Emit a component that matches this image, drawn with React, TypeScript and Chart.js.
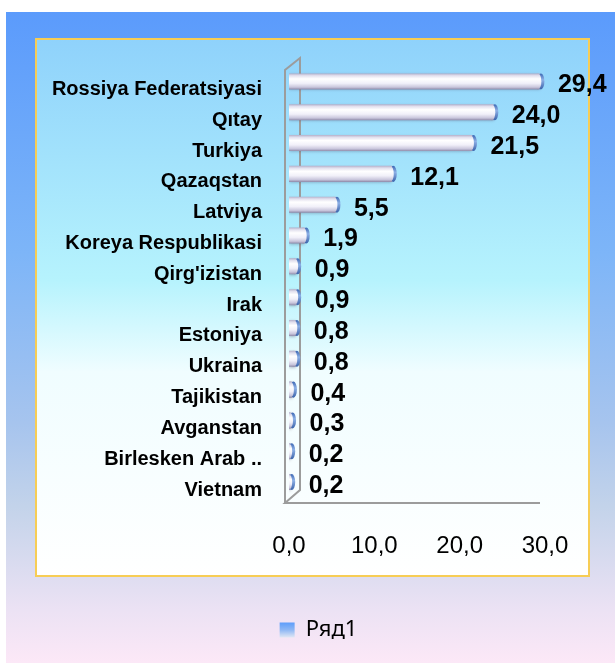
import React, { useEffect, useRef } from 'react';
import { Chart, registerables } from 'chart.js';

Chart.register(...registerables);

const categories = [
  'Rossiya Federatsiyasi',
  'Qıtay',
  'Turkiya',
  'Qazaqstan',
  'Latviya',
  'Koreya Respublikasi',
  "Qirg'izistan",
  'Irak',
  'Estoniya',
  'Ukraina',
  'Tajikistan',
  'Avganstan',
  'Birlesken Arab ..',
  'Vietnam',
];
const values = [29.4, 24.0, 21.5, 12.1, 5.5, 1.9, 0.9, 0.9, 0.8, 0.8, 0.4, 0.3, 0.2, 0.2];
const xTicks = [0, 10, 20, 30];
const seriesName = 'Ряд1';

const fmt = (v: number) => v.toFixed(1).replace('.', ',');

const BAR_PCT = 0.52;

function bodyGradient(ctx: CanvasRenderingContext2D, yc: number, half: number) {
  const g = ctx.createLinearGradient(0, yc - half, 0, yc + half);
  g.addColorStop(0, '#b4b0ca');
  g.addColorStop(0.14, '#e2e0ee');
  g.addColorStop(0.34, '#ffffff');
  g.addColorStop(0.62, '#f1f0f9');
  g.addColorStop(0.86, '#c9c6dc');
  g.addColorStop(1, '#8e8aa9');
  return g;
}

export default function App() {
  const ref = useRef<HTMLCanvasElement>(null);

  useEffect(() => {
    const canvas = ref.current!;
    const W = 615;
    const H = 664;

    const bgPlugin = {
      id: 'bgDecor',
      afterLayout(chart: any) {
        const lg = chart.legend;
        if (lg) {
          lg.left = 92;
          lg.right = 545;
          lg.width = 545 - 92;
        }
      },
      beforeDraw(chart: any) {
        const { ctx, chartArea: ca } = chart;
        ctx.save();
        ctx.fillStyle = '#ffffff';
        ctx.fillRect(0, 0, W, H);
        const og = ctx.createLinearGradient(0, 12, 0, 663);
        og.addColorStop(0, '#5b9bfc');
        og.addColorStop(0.37, '#7db5f8');
        og.addColorStop(0.63, '#a6c4ee');
        og.addColorStop(0.76, '#c3d3ea');
        og.addColorStop(0.92, '#ece2f4');
        og.addColorStop(1, '#fce8f7');
        ctx.fillStyle = og;
        ctx.fillRect(6, 12, W - 6, 651);

        const ig = ctx.createLinearGradient(0, 39, 0, 576);
        ig.addColorStop(0, '#8fd2fb');
        ig.addColorStop(0.45, '#b6f3fd');
        ig.addColorStop(0.62, '#f0fdff');
        ig.addColorStop(1, '#ffffff');
        ctx.fillStyle = ig;
        ctx.fillRect(36, 39, 553, 537);
        ctx.strokeStyle = '#f7cd55';
        ctx.lineWidth = 2;
        ctx.strokeRect(36, 39, 553, 537);

        // 3D wall and floor
        const fx = ca.left - 4;
        const bx = ca.left + 11;
        const fTop = ca.top + 4;
        const bTop = ca.top - 8;
        const fBot = ca.bottom + 5.5;
        const bBot = ca.bottom - 7.5;
        ctx.strokeStyle = '#9c9c9c';
        ctx.lineWidth = 2;
        ctx.beginPath();
        ctx.moveTo(fx, fBot);
        ctx.lineTo(fx, fTop);
        ctx.lineTo(bx, bTop);
        ctx.lineTo(bx, bBot);
        ctx.lineTo(fx, fBot);
        ctx.lineTo(ca.right - 5, fBot);
        ctx.stroke();
        ctx.restore();
      },
      beforeDatasetsDraw(chart: any) {
        const ctx = chart.ctx;
        ctx.save();
        ctx.shadowColor = 'rgba(60,60,90,0.35)';
        ctx.shadowBlur = 3;
        ctx.shadowOffsetY = 1;
      },
      afterDatasetsDraw(chart: any) {
        const { ctx, chartArea: ca } = chart;
        ctx.restore();
        const meta = chart.getDatasetMeta(0);
        ctx.save();
        ctx.beginPath();
        ctx.rect(ca.left, 0, W - ca.left, H);
        ctx.clip();
        meta.data.forEach((el: any) => {
          const xEnd = el.x;
          const yc = el.y;
          const half = el.height / 2;
          const cg = ctx.createLinearGradient(0, yc - half, 0, yc + half);
          cg.addColorStop(0, '#3d68b4');
          cg.addColorStop(0.4, '#8db0e6');
          cg.addColorStop(1, '#3a62aa');
          ctx.fillStyle = cg;
          ctx.beginPath();
          ctx.ellipse(xEnd + 1, yc, 3.5, half, 0, 0, Math.PI * 2);
          ctx.fill();
          ctx.fillStyle = bodyGradient(ctx, yc, half);
          ctx.beginPath();
          ctx.ellipse(xEnd - 2, yc, 3.5, half, 0, 0, Math.PI * 2);
          ctx.fill();
        });
        ctx.restore();

        ctx.save();
        ctx.fillStyle = '#000000';
        ctx.font = 'bold 25px "Liberation Sans", Arial, sans-serif';
        ctx.textAlign = 'left';
        ctx.textBaseline = 'middle';
        meta.data.forEach((el: any, i: number) => {
          ctx.fillText(fmt(values[i]), el.x + 18, el.y + 4);
        });
        ctx.restore();
      },
    };

    const chart = new Chart(canvas, {
      type: 'bar',
      data: {
        labels: categories,
        datasets: [
          {
            label: seriesName,
            data: values,
            barPercentage: BAR_PCT,
            categoryPercentage: 1,
            borderWidth: 0,
            backgroundColor: (c: any) => {
              const ch = c.chart;
              if (!ch.chartArea || c.type !== 'data') return '#eeeef8';
              const ys = ch.scales.y;
              const yc = ys.getPixelForValue(c.dataIndex);
              const half = ((ys.height / categories.length) * BAR_PCT) / 2;
              return bodyGradient(ch.ctx, yc, half);
            },
          },
        ],
      },
      options: {
        animation: false,
        responsive: false,
        indexAxis: 'y',
        layout: { padding: { left: 20, right: 70, top: 66, bottom: 13 } },
        scales: {
          x: {
            min: 0,
            max: 30,
            afterBuildTicks: (s: any) => {
              s.ticks = xTicks.map((v) => ({ value: v }));
            },
            ticks: {
              callback: (v: any) => fmt(Number(v)),
              font: { family: '"Liberation Sans", Arial, sans-serif', size: 24 },
              color: '#000000',
              padding: 34,
              maxRotation: 0,
            },
            grid: { display: false, drawTicks: false },
            border: { display: false },
            afterFit: (s: any) => {
              s.height = 111.5;
            },
          },
          y: {
            ticks: {
              font: { family: '"Liberation Sans", Arial, sans-serif', size: 20, weight: 'bold' },
              color: '#000000',
              padding: 27,
              labelOffset: 8,
              autoSkip: false,
            },
            grid: { display: false, drawTicks: false },
            border: { display: false },
            afterFit: (s: any) => {
              s.width = 269;
            },
          },
        },
        plugins: {
          legend: {
            position: 'bottom',
            labels: {
              boxWidth: 15,
              boxHeight: 15,
              padding: 10,
              font: { family: '"Noto Sans", sans-serif', size: 22 },
              color: '#111111',
              generateLabels: (ch: any) => {
                const g = ch.ctx.createLinearGradient(0, 622, 0, 638);
                g.addColorStop(0, '#5a9cfb');
                g.addColorStop(0.5, '#8fb8f4');
                g.addColorStop(1, '#e6eaf4');
                return [
                  {
                    text: seriesName,
                    fillStyle: g,
                    strokeStyle: 'rgba(0,0,0,0)',
                    lineWidth: 0,
                    hidden: false,
                    datasetIndex: 0,
                  },
                ];
              },
            },
          },
          tooltip: { enabled: false },
        },
      } as any,
      plugins: [bgPlugin],
    });

    return () => chart.destroy();
  }, []);

  return (
    <div style={{ position: 'absolute', left: 0, top: 0, width: 615, height: 664 }}>
      <canvas ref={ref} width={615} height={664} style={{ display: 'block' }} />
    </div>
  );
}
